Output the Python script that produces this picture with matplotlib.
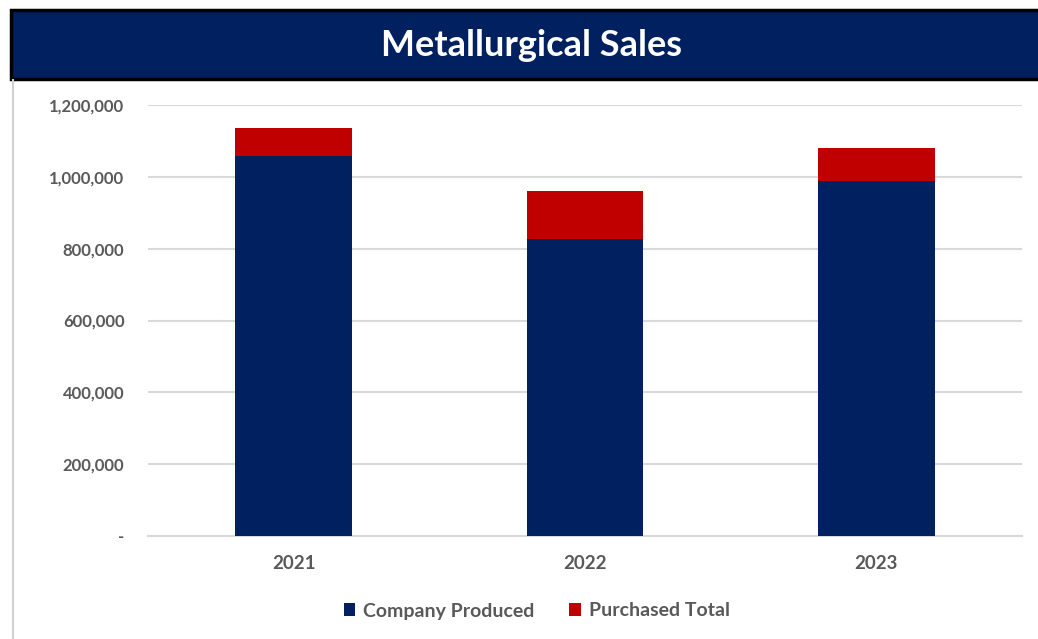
import matplotlib.pyplot as plt
import matplotlib.patches as mpatches
from matplotlib.ticker import FuncFormatter
import numpy as np

years = ["2021", "2022", "2023"]
company_produced = [1059000, 828000, 988000]
purchased_total = [77000, 132000, 93000]

NAVY = "#002060"
RED = "#C00000"
GRID = "#D9D9D9"
TEXT = "#595959"

plt.rcParams['font.family'] = ['Lato', 'DejaVu Sans']

fig = plt.figure(figsize=(10.38, 6.39), dpi=100)

# header band with the title
band = mpatches.Rectangle((11 / 1038, 1 - 79 / 639), 1.0, 69 / 639,
                          transform=fig.transFigure, facecolor=NAVY,
                          edgecolor="black", linewidth=2.5, zorder=0)
fig.patches.append(band)
fig.text(0.512, 1 - 46 / 639, "Metallurgical Sales", color="white",
         fontsize=26, fontweight="bold", ha="center", va="center")

# thin frame line down the left side
fig.add_artist(plt.Line2D([13 / 1038, 13 / 1038], [0, 1 - 80 / 639],
                          transform=fig.transFigure, color="#D0D0D0", lw=1.5))

ax = fig.add_axes([148 / 1038, 1 - 536 / 639, 874 / 1038, 431 / 639])
x = np.arange(len(years))
ax.bar(x, company_produced, width=0.4, color=NAVY, label="Company Produced", zorder=3)
ax.bar(x, purchased_total, width=0.4, bottom=company_produced, color=RED,
       label="Purchased Total", zorder=3)

ax.set_xlim(-0.5, 2.5)
ax.set_ylim(0, 1200000)
ax.set_yticks(range(0, 1200001, 200000))
ax.yaxis.set_major_formatter(FuncFormatter(lambda v, p: "-" if v == 0 else f"{int(v):,}"))
ax.set_xticks(x)
ax.set_xticklabels(years)

ax.grid(True, axis="y", color=GRID, linewidth=1.5, zorder=0)
for s in ["top", "right", "left"]:
    ax.spines[s].set_visible(False)
ax.spines["bottom"].set_color(GRID)
ax.spines["bottom"].set_linewidth(1.5)
ax.tick_params(axis="both", length=0, colors=TEXT)
ax.tick_params(axis="y", pad=17, labelsize=12)
ax.tick_params(axis="x", pad=14, labelsize=13.5)
for lbl in ax.get_xticklabels() + ax.get_yticklabels():
    lbl.set_fontweight("bold")

leg = fig.legend(loc="center", bbox_to_anchor=(0.517, 1 - 611 / 639), ncol=2,
                 frameon=False, handlelength=0.6, handleheight=0.6,
                 handletextpad=0.4, columnspacing=1.8,
                 prop={"size": 14, "weight": "bold"})
for t in leg.get_texts():
    t.set_color(TEXT)

fig.savefig("out.png", dpi=100)
